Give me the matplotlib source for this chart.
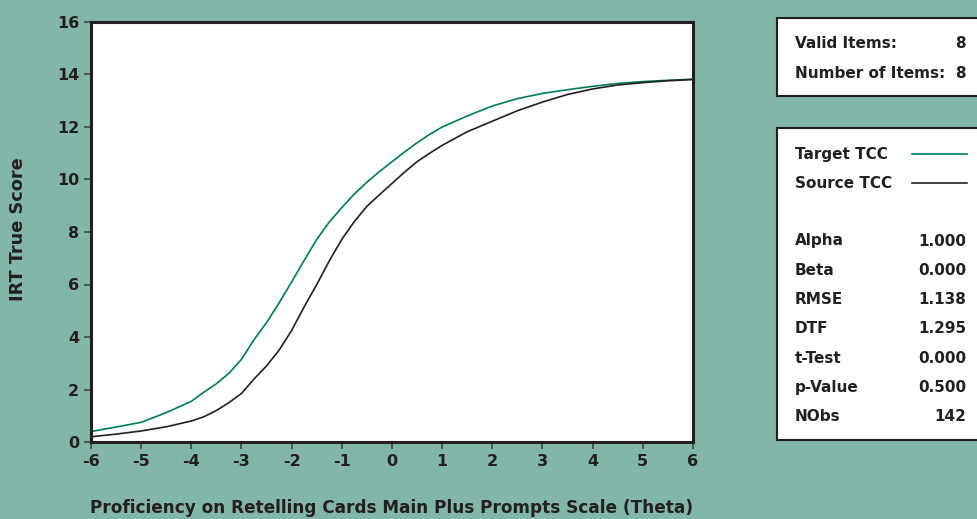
import numpy as np
import matplotlib.pyplot as plt
from matplotlib.patches import Rectangle
from matplotlib.lines import Line2D

plt.rcParams['axes.unicode_minus'] = False

theta = [-6, -5.5, -5, -4.5, -4, -3.75, -3.5, -3.25, -3, -2.75, -2.5, -2.25, -2,
         -1.75, -1.5, -1.25, -1, -0.75, -0.5, -0.25, 0, 0.25, 0.5, 0.75, 1,
         1.5, 2, 2.5, 3, 3.5, 4, 4.5, 5, 5.5, 6]
target_tcc = [0.40, 0.57, 0.75, 1.12, 1.55, 1.90, 2.22, 2.62, 3.15, 3.90, 4.55, 5.30, 6.10,
              6.92, 7.72, 8.38, 8.93, 9.45, 9.90, 10.30, 10.68, 11.05, 11.40, 11.72, 12.00,
              12.42, 12.80, 13.08, 13.28, 13.42, 13.55, 13.66, 13.73, 13.78, 13.82]
source_tcc = [0.20, 0.30, 0.42, 0.58, 0.80, 0.96, 1.20, 1.50, 1.85, 2.40, 2.90, 3.50, 4.25,
              5.15, 6.00, 6.90, 7.72, 8.40, 8.98, 9.42, 9.85, 10.28, 10.68, 11.00, 11.30,
              11.82, 12.22, 12.62, 12.95, 13.24, 13.45, 13.60, 13.69, 13.76, 13.81]

info_labels = ["Valid Items:", "Number of Items:"]
info_values = ["8", "8"]
stat_labels = ["Alpha", "Beta", "RMSE", "DTF", "t-Test", "p-Value", "NObs"]
stat_values = ["1.000", "0.000", "1.138", "1.295", "0.000", "0.500", "142"]

bg = "#82b6a9"
ink = "#231f20"
green = "#007a5c"

W, H = 978, 519
fig = plt.figure(figsize=(W / 100, H / 100), dpi=100, facecolor=bg)
ax = fig.add_axes([91 / W, 1 - 442 / H, (693 - 91) / W, (442 - 22) / H])
ax.set_facecolor("white")

ax.plot(theta, target_tcc, color=green, lw=1.2)
ax.plot(theta, source_tcc, color=ink, lw=1.2)

ax.set_xlim(-6, 6)
ax.set_ylim(0, 16)
ax.set_xticks(range(-6, 7))
ax.set_yticks(range(0, 17, 2))
for s in ax.spines.values():
    s.set_linewidth(2.2)
    s.set_color(ink)
ax.tick_params(direction="out", length=5, width=1.2, color="#444444",
               labelcolor=ink, labelsize=11.5)
for lab in ax.get_xticklabels() + ax.get_yticklabels():
    lab.set_fontweight("bold")
ax.tick_params(axis="x", pad=4)

fig.text(392 / W, 1 - 508 / H, "Proficiency on Retelling Cards Main Plus Prompts Scale (Theta)",
         ha="center", va="center", fontsize=12.2, fontweight="bold", color=ink)
fig.text(18 / W, 1 - 229 / H, "IRT True Score", rotation=90,
         ha="center", va="center", fontsize=12.8, fontweight="bold", color=ink)

# info boxes (cut off at the right edge)
def fbox(x0, y0, x1, y1):
    r = Rectangle((x0 / W, 1 - y1 / H), (x1 - x0) / W, (y1 - y0) / H,
                  transform=fig.transFigure, facecolor="white",
                  edgecolor=ink, lw=1.5, clip_on=False)
    fig.patches.append(r)

fbox(777, 18, 990, 96)
fbox(777, 128, 990, 440)

tx, vx = 795 / W, 966 / W
kw = dict(fontsize=11, fontweight="bold", color=ink, va="center")
for i, (lab, val) in enumerate(zip(info_labels, info_values)):
    y = 1 - (44 + 29 * i) / H
    fig.text(tx, y, lab, ha="left", **kw)
    fig.text(vx, y, val, ha="right", **kw)

fig.text(tx, 1 - 154 / H, "Target TCC", ha="left", **kw)
fig.text(tx, 1 - 183 / H, "Source TCC", ha="left", **kw)
fig.lines.append(Line2D([912 / W, 967 / W], [1 - 154 / H] * 2, transform=fig.transFigure,
                        color=green, lw=1.2))
fig.lines.append(Line2D([912 / W, 967 / W], [1 - 183 / H] * 2, transform=fig.transFigure,
                        color=ink, lw=1.2))

for i, (lab, val) in enumerate(zip(stat_labels, stat_values)):
    y = 1 - (241 + 29.3 * i) / H
    fig.text(tx, y, lab, ha="left", **kw)
    fig.text(vx, y, val, ha="right", **kw)

fig.savefig("out.png", dpi=100, facecolor=bg)
